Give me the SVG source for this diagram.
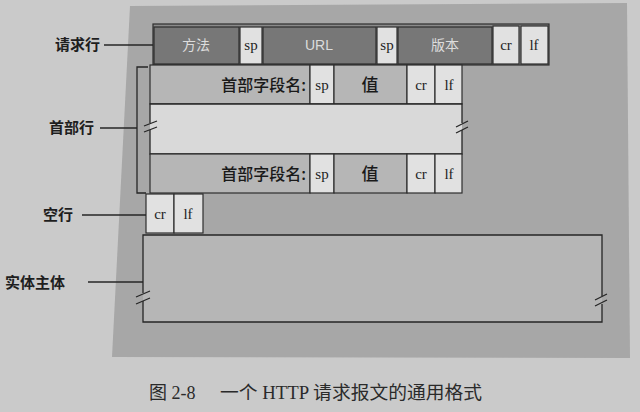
<svg xmlns="http://www.w3.org/2000/svg" width="640" height="412" viewBox="0 0 640 412">
<style>
.cell{stroke:#2e2e2e;stroke-width:1.2}
.dark{fill:#777777}
.mid{fill:#b6b6b6}
.light{fill:#e1e1e1}
.ln{fill:none;stroke:#262626;stroke-width:1.3}
.brk{fill:none;stroke:#262626;stroke-width:1.3}
.lbl{font-family:"Noto Sans CJK SC","Liberation Sans",sans-serif;font-size:15px;fill:#1e1e1e;font-weight:bold}
.ser{font-family:"Liberation Serif","Noto Sans CJK SC",serif;font-size:15px;fill:#1e1e1e;text-anchor:middle}
.inv{font-family:"Noto Sans CJK SC","Liberation Sans",sans-serif;font-size:14px;fill:#dcdcdc;text-anchor:middle}
.hd{font-family:"Noto Sans CJK SC","Liberation Serif",serif;font-size:16px;fill:#1a1a1a;font-weight:500}
</style>
<rect x="0" y="0" width="640" height="412" fill="#cacaca"/>
<polygon points="130,6 627,3 630,358 112,357" fill="#a7a7a7"/>

<g id="request-line">
<rect x="153" y="24" width="396" height="41" fill="#8a8a8a" class="cell"/>
<rect class="cell dark" x="154" y="27" width="85" height="37"/>
<rect class="cell light" x="240" y="27" width="22" height="37"/>
<rect class="cell dark" x="263" y="27" width="113" height="37"/>
<rect class="cell light" x="377" y="27" width="20" height="37"/>
<rect class="cell dark" x="398" y="27" width="94" height="37"/>
<rect class="cell light" x="493" y="26" width="26" height="38"/>
<rect class="cell light" x="521" y="26" width="27" height="38"/>
<text class="inv" x="196" y="50">方法</text>
<text class="ser" x="251" y="50">sp</text>
<text class="inv" x="319" y="50" style="font-family:'Liberation Sans',sans-serif">URL</text>
<text class="ser" x="387" y="50">sp</text>
<text class="inv" x="445" y="50">版本</text>
<text class="ser" x="506" y="50">cr</text>
<text class="ser" x="534" y="50">lf</text>
</g>

<g id="header-line-1">
<rect class="cell mid" x="150" y="65" width="160" height="39"/>
<rect class="cell light" x="310" y="65" width="24" height="39"/>
<rect class="cell mid" x="334" y="65" width="73" height="39"/>
<rect class="cell light" x="407" y="65" width="28" height="39"/>
<rect class="cell light" x="435" y="65" width="27" height="39"/>
<text class="hd" x="306" y="91" text-anchor="end">首部字段名:</text>
<text class="ser" x="322" y="90">sp</text>
<text class="hd" x="370" y="91" text-anchor="middle" style="font-size:17px">值</text>
<text class="ser" x="421" y="90">cr</text>
<text class="ser" x="449" y="90">lf</text>
</g>

<g id="header-gap">
<rect x="150" y="104" width="312" height="50" fill="#d9d9d9"/>
<path class="ln" d="M150,123 V104 H462 V123 M462,130 V154 H150 V130"/>
<path class="brk" d="M144,126 L157,121 M144,132 L157,127"/>
<path class="brk" d="M456,127 L468,121 M456,133 L468,127"/>
</g>

<g id="header-line-2">
<rect class="cell mid" x="150" y="154" width="160" height="39"/>
<rect class="cell light" x="310" y="154" width="24" height="39"/>
<rect class="cell mid" x="334" y="154" width="73" height="39"/>
<rect class="cell light" x="407" y="154" width="28" height="39"/>
<rect class="cell light" x="435" y="154" width="27" height="39"/>
<text class="hd" x="306" y="180" text-anchor="end">首部字段名:</text>
<text class="ser" x="322" y="179">sp</text>
<text class="hd" x="370" y="180" text-anchor="middle" style="font-size:17px">值</text>
<text class="ser" x="421" y="179">cr</text>
<text class="ser" x="449" y="179">lf</text>
</g>

<g id="blank-line">
<rect class="cell light" x="146" y="194" width="28" height="39"/>
<rect class="cell light" x="174" y="194" width="29" height="39"/>
<text class="ser" x="160" y="219">cr</text>
<text class="ser" x="188" y="219">lf</text>
</g>

<g id="entity-body">
<rect x="143" y="235" width="459" height="87" fill="#b6b6b6"/>
<path class="ln" d="M143,293 V235 H602 V296 M602,304 V322 H143 V301"/>
<path class="brk" d="M136,297 L150,291 M136,304 L150,298"/>
<path class="brk" d="M595,300 L607,294 M595,306 L607,300"/>
</g>

<g id="connectors">
<path class="ln" d="M104,45 H153"/>
<path class="ln" d="M148,67 H137 V193 H146"/>
<path class="ln" d="M100,128 H137"/>
<path class="ln" d="M82,215 H146"/>
<path class="ln" d="M88,282 H143"/>
</g>

<g id="labels">
<text class="lbl" x="55" y="50">请求行</text>
<text class="lbl" x="49" y="133">首部行</text>
<text class="lbl" x="43" y="220">空行</text>
<text class="lbl" x="5" y="288">实体主体</text>
</g>

<g id="caption" font-family="'Liberation Serif','Noto Sans CJK SC',serif" font-size="18" fill="#2a2a2a">
<text x="149" y="399">图 2-8</text>
<text x="220" y="399" textLength="262" lengthAdjust="spacingAndGlyphs">一个 HTTP 请求报文的通用格式</text>
</g>
</svg>
